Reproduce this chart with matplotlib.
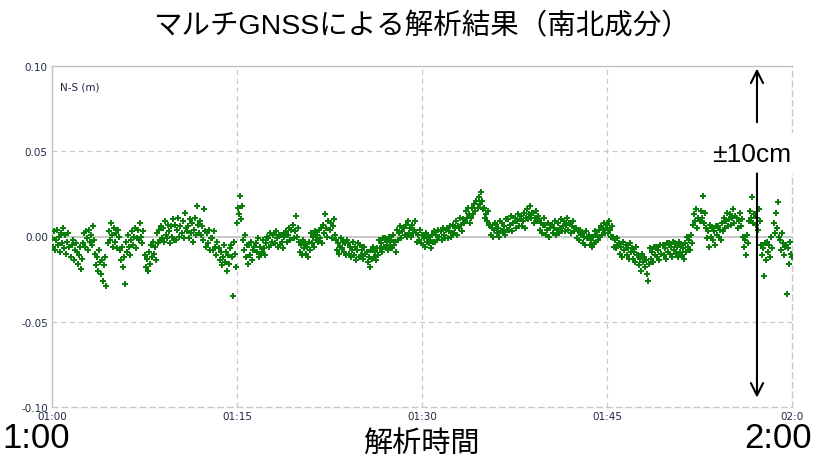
import numpy as np
import matplotlib.pyplot as plt

# N-S component (mm), one value every 5 s, one row per minute (01:00 - 02:00)
ns_mm = [
    -1, -6, 3, -8, -2, 4, -5, 0, -9, 2, -4, 5,
    -7, 1, -10, -3, 2, -6, -12, -5, -2, -14, -8, -4,
    -9, -16, -11, -6, -19, -13, -4, 2, -6, 3, -1, -8,
    4, -3, 1, -5, 6, -2, -10, -17, -12, -20, -8, -15,
    -22, -14, -26, -17, -12, -29, -4, 3, -2, 8, 1, -6,
    5, -3, 2, -7, 4, 0, -8, -14, -6, -18, -12, -28,
    -3, -9, 1, -6, -11, -2, 3, -5, 0, 5, -7, -1,
    4, -2, 8, 0, -4, 3, -11, -18, -13, -20, -9, -16,
    -5, -12, -3, -10, -6, -14, 2, -4, 4, -2, 6, -1,
    5, -3, 9, 1, -1, 7, 3, -4, 6, 0, 10, -2,
    7, -2, 4, 11, 0, 6, 2, 9, -1, 14, 5, 3,
    6, -1, 10, 2, 8, -3, 4, 11, 1, 18, 7, 2,
    9, 1, 6, -2, 16, 3, -6, 2, -4, 4, -8, -1,
    -1, -8, 3, -6, -11, -3, -7, -14, -9, -17, -12, -5,
    -15, -9, -20, -11, -16, -7, -5, -12, -35, -3, -10, -18,
    8, 17, 13, 24, 10, 18, -2, -8, 1, -12, -5, -16,
    -5, -11, -3, -14, -8, -6, -4, -9, -1, -12, -6, -10,
    -9, -2, -7, -11, -4, 0, -1, -6, 2, -5, -3, 1,
    2, -4, 3, -1, -6, 1, -5, 1, -3, -7, 0, 2,
    3, -3, 1, 5, -2, 4, 7, -1, 3, 12, 0, 5,
    -3, -9, -5, -11, -2, -7, -4, -10, -6, -12, -3, -8,
    2, -4, 0, -6, 3, -2, 1, -3, 4, -1, 5, -4,
    7, 2, 13, 5, 0, 9, 4, 8, -1, 6, 10, 1,
    -2, -8, -4, -10, -6, -1, -7, -3, -9, -4, -11, -2,
    -4, -10, -6, -12, -8, -3, -11, -6, -14, -8, -4, -12,
    -5, -11, -8, -13, -6, -10, -9, -15, -12, -18, -8, -13,
    -6, -12, -9, -14, -7, -11, -2, -7, -4, -9, -1, -6,
    -1, -6, -3, -8, 0, -5, -2, -7, 1, -5, -3, -9,
    4, -2, 2, 6, -1, 3, 5, 1, 7, 0, 9, 2,
    5, 0, 7, 2, 4, 9, 2, -3, 1, -2, 4, -4,
    1, -5, -1, -6, 2, -3, 0, -4, -2, -7, 1, -3,
    3, -3, 1, -2, 4, 0, 3, -2, 5, 1, -1, 4,
    5, -1, 3, 6, 0, 2, 7, 2, 5, 9, 1, 6,
    5, 11, 7, 3, 10, 8, 9, 15, 11, 17, 13, 8,
    11, 17, 13, 19, 15, 21, 17, 23, 19, 26, 21, 16,
    17, 11, 13, 9, 15, 7, 7, 1, 5, 0, 4, 8,
    7, 2, 5, 0, 9, 3, 8, 3, 6, 1, 10, 4,
    10, 4, 7, 12, 3, 8, 11, 5, 9, 13, 6, 10,
    12, 6, 9, 14, 5, 11, 16, 10, 13, 18, 11, 14,
    14, 8, 11, 15, 9, 12, 10, 4, 8, 2, 7, 11,
    7, 1, 4, 8, 0, 5, 7, 2, 5, 9, 1, 4,
    8, 2, 5, 10, 3, 6, 9, 3, 7, 11, 4, 8,
    8, 2, 6, 9, 3, 5, 5, -1, 3, -2, 4, 1,
    2, -4, 0, -5, 3, -1, 1, -5, -2, -6, 0, -4,
    3, -3, 1, -2, 4, 0, 6, 1, 4, 8, 2, 5,
    7, 2, 9, 4, 0, 6, 0, -6, -2, -7, -1, -5,
    -4, -10, -6, -12, -3, -8, -5, -11, -7, -13, -4, -9,
    -7, -13, -9, -15, -6, -11, -11, -17, -13, -20, -10, -15,
    -12, -18, -14, -22, -26, -16, -7, -13, -9, -15, -6, -11,
    -6, -12, -8, -14, -5, -10, -5, -11, -7, -13, -4, -9,
    -4, -10, -6, -12, -3, -8, -4, -10, -6, -12, -3, -9,
    -5, -11, -7, -13, -4, -9, 0, -6, -2, -8, 1, -4,
    7, 13, 9, 16, 5, 11, 9, 15, 11, 24, 8, 14,
    5, -1, 3, -6, 7, 0, 5, -2, 3, -5, 6, 1,
    6, 0, 4, -2, 8, 3, 11, 5, 9, 14, 6, 10,
    13, 7, 11, 16, 8, 12, 11, 5, 9, 14, 6, 10,
    0, -6, -2, -11, 1, -4, 9, 15, 11, 23, 8, 13,
    13, 7, 11, 4, 16, 9, -5, -11, -7, -23, -4, -14,
    -3, -9, -5, -12, 0, -7, 8, 2, 14, 5, 20, 0,
    -2, -8, 2, -4, -11, -6, -5, -34, -7, -16, -3, -10,
    -12,
]
step_sec = 5
x_ticks = [0, 15, 30, 45, 60]
x_labels = ['01:00', '01:15', '01:30', '01:45', '02:0']
y_ticks = [-0.10, -0.05, 0.00, 0.05, 0.10]

ns = np.array(ns_mm) / 1000.0
t_min = np.arange(len(ns)) * step_sec / 60.0

fig = plt.figure(figsize=(8.14, 4.6), dpi=100)
ax = fig.add_axes([52/814, 52/460, 740/814, 341/460])

tick_color = '#1f2a44'
grid_color = '#c8c8c8'

ax.plot(t_min, ns, linestyle='none', marker='P', markersize=4.8,
        markeredgewidth=0, color='#0a7d0a', zorder=3)

ax.set_xlim(0, 60)
ax.set_ylim(-0.10, 0.10)
ax.set_xticks(x_ticks)
ax.set_xticklabels(x_labels)
ax.set_yticks(y_ticks)
ax.set_yticklabels(['%.2f' % v for v in y_ticks])
ax.tick_params(length=0, labelsize=7.5, colors=tick_color, pad=3)

# grid
for v in [-0.05, 0.05]:
    ax.axhline(v, color=grid_color, linestyle=(0, (4, 3)), linewidth=0.9, zorder=1)
ax.axhline(0, color='#c0c0c0', linewidth=1.2, zorder=1)
for v in [15, 30, 45]:
    ax.axvline(v, color=grid_color, linestyle=(0, (4, 3)), linewidth=0.9, zorder=1)

for s in ['left', 'top']:
    ax.spines[s].set_color('#c0c0c0')
    ax.spines[s].set_linewidth(1.0)
for s in ['right', 'bottom']:
    ax.spines[s].set_color('#c8c8c8')
    ax.spines[s].set_linestyle((0, (4, 3)))
    ax.spines[s].set_linewidth(1.0)

ax.text(0.011, 0.955, 'N-S (m)', transform=ax.transAxes, fontsize=7.5,
        color=tick_color, ha='left', va='top')

jp = ['Liberation Sans', 'Noto Sans CJK JP']
fig.text(421/814, 1 - 27/460, 'マルチGNSSによる解析結果（南北成分）',
         fontsize=20.5, family=jp, ha='center', va='center')
fig.text(2/814, 1 - 439/460, '1:00', fontsize=25, family=jp, ha='left', va='center')
fig.text(812/814, 1 - 439/460, '2:00', fontsize=25, family=jp, ha='right', va='center')
fig.text(421/814, 1 - 444/460, '解析時間', fontsize=21, family=jp, ha='center', va='center')

# ±10cm arrows
ax_x = 57.16
ax.annotate('', xy=(ax_x, 0.0985), xytext=(ax_x, 0.067),
            arrowprops=dict(arrowstyle='->', color='black', lw=1.5,
                            mutation_scale=22, shrinkA=0, shrinkB=0),
            annotation_clip=False, zorder=6)
ax.annotate('', xy=(ax_x, -0.0945), xytext=(ax_x, 0.037),
            arrowprops=dict(arrowstyle='->', color='black', lw=1.5,
                            mutation_scale=22, shrinkA=0, shrinkB=0),
            annotation_clip=False, zorder=6)
ax.text(56.75, 0.0485, '±10cm', fontsize=19, family=jp, ha='center', va='center',
        bbox=dict(facecolor='white', edgecolor='none', pad=6), zorder=5,
        clip_on=False)

fig.savefig('out.png', dpi=100)
